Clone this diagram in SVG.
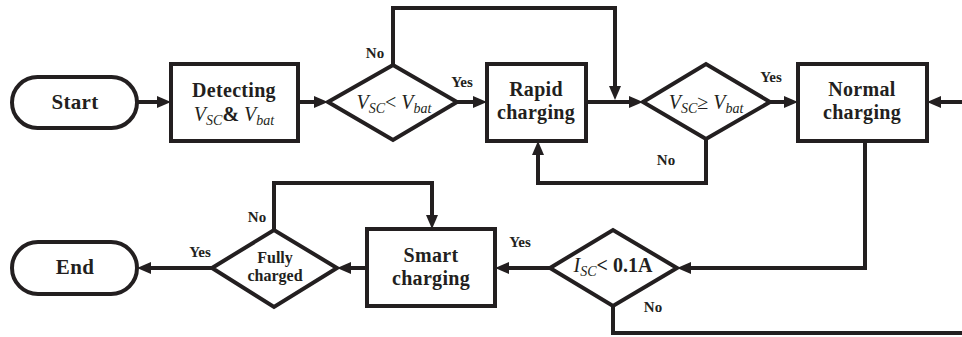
<svg xmlns="http://www.w3.org/2000/svg" width="962" height="337" viewBox="0 0 962 337">
<style>
.s{fill:#fff;stroke:#231f20;stroke-width:4;stroke-linejoin:miter}
.c{fill:none;stroke:#231f20;stroke-width:4;stroke-linejoin:miter}
text{font-family:"Liberation Serif","Times New Roman",serif;fill:#231f20;text-anchor:middle}
.t{font-size:20px;font-weight:bold;letter-spacing:0.3px}
.f{font-size:16px;font-weight:bold}
.l{font-size:15px;font-weight:bold}
.m{font-size:20px;font-style:italic}
.sub{font-size:14px}
</style>
<defs>
<marker id="a" viewBox="0 0 14 12" refX="8" refY="6" markerWidth="14" markerHeight="12" markerUnits="userSpaceOnUse" orient="auto">
<path d="M0,0 L14,6 L0,12 z" fill="#231f20"/>
</marker>
</defs>
<g id="connectors" class="c">
<path d="M137,102 H165" marker-end="url(#a)"/>
<path d="M298,102 H322" marker-end="url(#a)"/>
<path d="M457,102 H481" marker-end="url(#a)"/>
<path d="M393,65 V8 H615 V94" marker-end="url(#a)"/>
<path d="M586,102 H637" marker-end="url(#a)"/>
<path d="M770,102 H792" marker-end="url(#a)"/>
<path d="M962,102 H933" marker-end="url(#a)"/>
<path d="M706,139 V183 H538 V147" marker-end="url(#a)"/>
<path d="M865,141 V268 H683" marker-end="url(#a)"/>
<path d="M550,268 H501" marker-end="url(#a)"/>
<path d="M613,306 V333 H962"/>
<path d="M367,268 H343" marker-end="url(#a)"/>
<path d="M274,230 V183 H432 V223" marker-end="url(#a)"/>
<path d="M212,268 H143" marker-end="url(#a)"/>
</g>
<g id="start">
<rect class="s" x="12" y="77" width="125" height="51" rx="25.5"/>
<text class="t" x="75" y="109" style="font-size:21px">Start</text>
</g>
<g id="detecting">
<rect class="s" x="171" y="64" width="127" height="77"/>
<text class="t" x="234" y="97">Detecting</text>
<text class="m" x="234" y="121">V<tspan class="sub" dy="4">SC</tspan><tspan dy="-4" font-style="normal" font-weight="bold">&amp; </tspan>V<tspan class="sub" dy="4">bat</tspan></text>
</g>
<g id="cmp1">
<polygon class="s" points="328,102 393,65 457,102 393,140"/>
<text class="m" x="394" y="109">V<tspan class="sub" dy="4">SC</tspan><tspan dy="-4" font-style="normal">&lt; </tspan>V<tspan class="sub" dy="4">bat</tspan></text>
<text class="l" x="375" y="58">No</text>
<text class="l" x="462" y="87">Yes</text>
</g>
<g id="rapid">
<rect class="s" x="487" y="64" width="99" height="77"/>
<text class="t" x="536" y="96">Rapid</text>
<text class="t" x="536" y="119">charging</text>
</g>
<g id="cmp2">
<polygon class="s" points="643,102 706,64 770,102 706,139"/>
<text class="m" x="706" y="109">V<tspan class="sub" dy="4">SC</tspan><tspan dy="-4" font-style="normal">≥ </tspan>V<tspan class="sub" dy="4">bat</tspan></text>
<text class="l" x="771" y="82">Yes</text>
<text class="l" x="666" y="165">No</text>
</g>
<g id="normal">
<rect class="s" x="798" y="64" width="129" height="77"/>
<text class="t" x="862" y="96">Normal</text>
<text class="t" x="862" y="119">charging</text>
</g>
<g id="cmp3">
<polygon class="s" points="550,268 613,230 677,268 613,306"/>
<text class="m" x="613" y="272">I<tspan class="sub" dy="4">SC</tspan><tspan dy="-4" font-style="normal" font-weight="bold">&lt; 0.1A</tspan></text>
<text class="l" x="520" y="247">Yes</text>
<text class="l" x="653" y="312">No</text>
</g>
<g id="smart">
<rect class="s" x="367" y="229" width="128" height="77"/>
<text class="t" x="431" y="262">Smart</text>
<text class="t" x="431" y="285">charging</text>
</g>
<g id="full">
<polygon class="s" points="212,268 274,230 337,268 274,307"/>
<text class="f" x="275" y="263">Fully</text>
<text class="f" x="275" y="281">charged</text>
<text class="l" x="257" y="222">No</text>
<text class="l" x="200" y="257">Yes</text>
</g>
<g id="end">
<rect class="s" x="12" y="242" width="125" height="52" rx="26"/>
<text class="t" x="75" y="274" style="font-size:21px">End</text>
</g>
</svg>
